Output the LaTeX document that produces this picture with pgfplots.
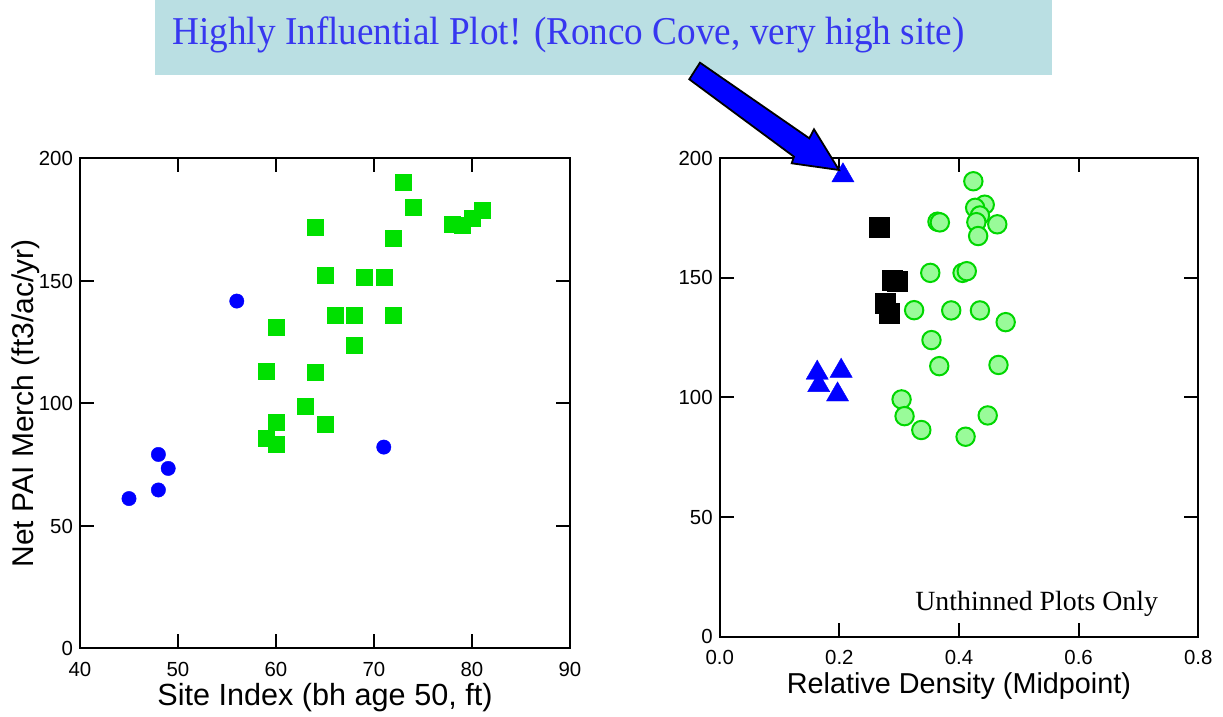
\documentclass[border=0pt]{standalone}
\usepackage{pgfplots}
\pgfplotsset{compat=1.18}
\usepackage{fontspec}
\setmainfont{Liberation Sans}
\newfontfamily\serifface{Liberation Serif}

\definecolor{boxteal}{RGB}{186,223,227}
\definecolor{titleblue}{RGB}{55,55,240}
\definecolor{sqgreen}{RGB}{0,224,0}
\definecolor{ptblue}{RGB}{0,0,255}
\definecolor{circfill}{RGB}{153,251,153}
\definecolor{circedge}{RGB}{0,215,0}

\pgfplotsset{
  panel/.style={
    scale only axis, anchor=south west,
    axis line style={line width=1pt},
    tick style={line width=1pt, black},
    major tick length=7pt,
    tick align=inside,
    /pgf/number format/assume math mode=true,
    tick label style={font=\fontsize{10.2}{12}\selectfont},
    xticklabel style={yshift=-3.2pt},
    label style={font=\fontsize{15}{18}\selectfont},
    clip=false,
  }
}

\begin{document}
\begin{tikzpicture}
\useasboundingbox (0,0) rectangle (611.5pt,358.5pt);

% banner
\fill[boxteal] (77.5pt,358.5pt) rectangle (526pt,321pt);
\node[anchor=base west, inner sep=0pt, text=titleblue,
      font=\serifface\fontsize{18.6}{22}\selectfont] at (86pt,336pt)
  {\scalebox{1}[1.06]{Highly Influential Plot! (Ronco Cove, very high site)}};

% left panel: site index
\begin{axis}[panel, at={(40pt,34.25pt)}, width=245pt, height=245pt,
  xmin=40, xmax=90, ymin=0, ymax=200,
  xtick={40,50,60,70,80,90}, ytick={0,50,100,150,200},
  xlabel={Site Index (bh age 50, ft)},
  ylabel={Net PAI Merch (ft3/ac/yr)},
  xlabel style={at={(axis description cs:0.5,-0.1173)}, anchor=base,
                font=\fontsize{15.3}{18}\selectfont},
  ylabel style={at={(axis description cs:-0.0949,0.5)}, anchor=base},
]
\addplot[only marks, mark=square*, mark size=4pt,
  mark options={fill=sqgreen, draw=sqgreen, line width=0.2pt}] coordinates {
  (73,190.2) (74,180.2) (64,172.1) (72,167.3) (78,173.3) (79,172.7)
  (80,175.7) (81,179) (65,152.3) (69,151.7) (71,151.7) (66,135.9)
  (68,135.9) (72,136.2) (60,131.3) (68,123.8) (59,113.3) (64,112.7)
  (63,98.7) (60,92.3) (65,91.7) (59,86.0) (60,83.3)
};
\addplot[only marks, mark=*, mark size=3.6pt,
  mark options={fill=ptblue, draw=ptblue, line width=0.2pt}] coordinates {
  (45,61.2) (48,79.2) (48,64.7) (49,73.5) (56,141.8) (71,82.2)
};
\end{axis}

% right panel: relative density
\begin{axis}[panel, at={(359.85pt,40.15pt)}, width=239.3pt, height=239.2pt,
  xmin=0, xmax=0.8, ymin=0, ymax=200,
  xtick={0,0.2,0.4,0.6,0.8}, ytick={0,50,100,150,200},
  xticklabel style={/pgf/number format/.cd, fixed, fixed zerofill, precision=1},
  xlabel={Relative Density (Midpoint)},
  xlabel style={at={(axis description cs:0.5,-0.1194)}, anchor=base,
                font=\fontsize{14.4}{17}\selectfont},
]
\addplot[only marks, mark=*, mark size=4.6pt,
  mark options={fill=circfill, draw=circedge, line width=1pt}] coordinates {
  (0.424,190.4) (0.443,180.6) (0.427,179.3) (0.435,176.1) (0.429,173.3)
  (0.432,167.5) (0.464,172.4) (0.364,173.5) (0.368,173.2) (0.352,152.1)
  (0.406,152.1) (0.413,152.8) (0.325,136.5) (0.387,136.4) (0.435,136.4)
  (0.478,131.5) (0.354,124.0) (0.367,113.1) (0.466,113.6) (0.304,99.2)
  (0.309,92.2) (0.448,92.5) (0.337,86.4) (0.411,83.6)
};
\addplot[only marks, mark=square*, mark size=5pt,
  mark options={fill=black, draw=black, line width=0.2pt}] coordinates {
  (0.267,171.1) (0.289,148.9) (0.296,148.6) (0.277,139.3) (0.283,135.2)
};
\addplot[only marks, mark=triangle*, mark size=6.4pt,
  mark options={fill=ptblue, draw=ptblue, line width=0.2pt}] coordinates {
  (0.206,192.8) (0.163,110.3) (0.1655,105.1) (0.203,111.1) (0.197,101.2)
};
\end{axis}

\node[anchor=base west, inner sep=0pt,
      font=\serifface\fontsize{13.9}{16}\selectfont] at (457.5pt,53pt)
  {Unthinned Plots Only};

% callout arrow
\filldraw[fill=ptblue, draw=black, line width=0.9pt, line join=miter]
  (350pt,327.15pt) -- (404.65pt,289.35pt) -- (407pt,293.85pt)
  -- (419.5pt,273.5pt) -- (395.85pt,276.85pt) -- (397pt,280.15pt)
  -- (344.65pt,318.85pt) -- cycle;
\end{tikzpicture}
\end{document}
